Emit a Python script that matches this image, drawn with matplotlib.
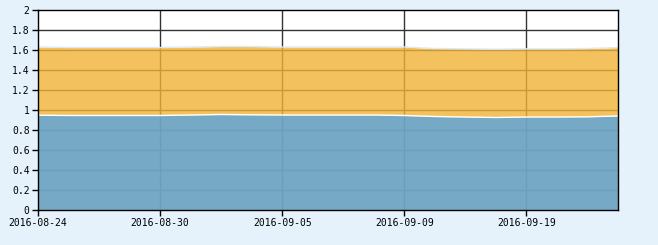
import matplotlib
matplotlib.use("Agg")
import matplotlib.pyplot as plt

dates = ["2016-08-24", "2016-08-25", "2016-08-26", "2016-08-29", "2016-08-30",
         "2016-08-31", "2016-09-01", "2016-09-02", "2016-09-05", "2016-09-06",
         "2016-09-07", "2016-09-08", "2016-09-09", "2016-09-12", "2016-09-13",
         "2016-09-14", "2016-09-19", "2016-09-20", "2016-09-21", "2016-09-22"]
lower = [0.948, 0.945, 0.945, 0.945, 0.945, 0.95, 0.955, 0.952, 0.95, 0.95,
         0.95, 0.95, 0.945, 0.935, 0.93, 0.925, 0.93, 0.93, 0.932, 0.94]
upper = [1.63, 1.625, 1.625, 1.625, 1.625, 1.63, 1.635, 1.635, 1.63, 1.63,
         1.63, 1.63, 1.63, 1.615, 1.612, 1.608, 1.612, 1.612, 1.615, 1.625]
tick_idx = [0, 4, 8, 12, 16]

x = list(range(len(dates)))

fig = plt.figure(figsize=(6.58, 2.45), dpi=100, facecolor="#e6f2fb")
ax = fig.add_axes([38 / 658, 35 / 245, 580 / 658, 200 / 245])
ax.set_facecolor("white")

# grid sits under the translucent fills
for yv in [0.2 * k for k in range(1, 10)]:
    ax.axhline(yv, color="#333333", lw=1, zorder=1)
for i in tick_idx[1:]:
    ax.axvline(i, color="#333333", lw=1, zorder=1)

ax.fill_between(x, 0, upper, color="#f1b336", alpha=0.8, lw=0, zorder=2)
ax.plot(x, upper, color="#dce9f5", lw=1, zorder=3)
ax.fill_between(x, 0, lower, color="#48a0ec", alpha=0.73, lw=0, zorder=4)
ax.plot(x, lower, color="white", lw=1, zorder=5)

ax.set_xlim(0, len(dates) - 1)
ax.set_ylim(0, 2)
ax.set_yticks([0.2 * k for k in range(11)])
ax.set_yticklabels(["0", "0.2", "0.4", "0.6", "0.8", "1", "1.2", "1.4", "1.6", "1.8", "2"])
ax.set_xticks(tick_idx)
ax.set_xticklabels([dates[i] for i in tick_idx])

for s in ax.spines.values():
    s.set_color("black")
    s.set_linewidth(1)
    s.set_zorder(6)
ax.tick_params(direction="out", length=4, width=1, color="black", pad=2)
for lab in ax.get_xticklabels() + ax.get_yticklabels():
    lab.set_fontfamily("DejaVu Sans Mono")
    lab.set_fontsize(7)
    lab.set_color("black")

fig.savefig("out.png", dpi=100, facecolor=fig.get_facecolor())
